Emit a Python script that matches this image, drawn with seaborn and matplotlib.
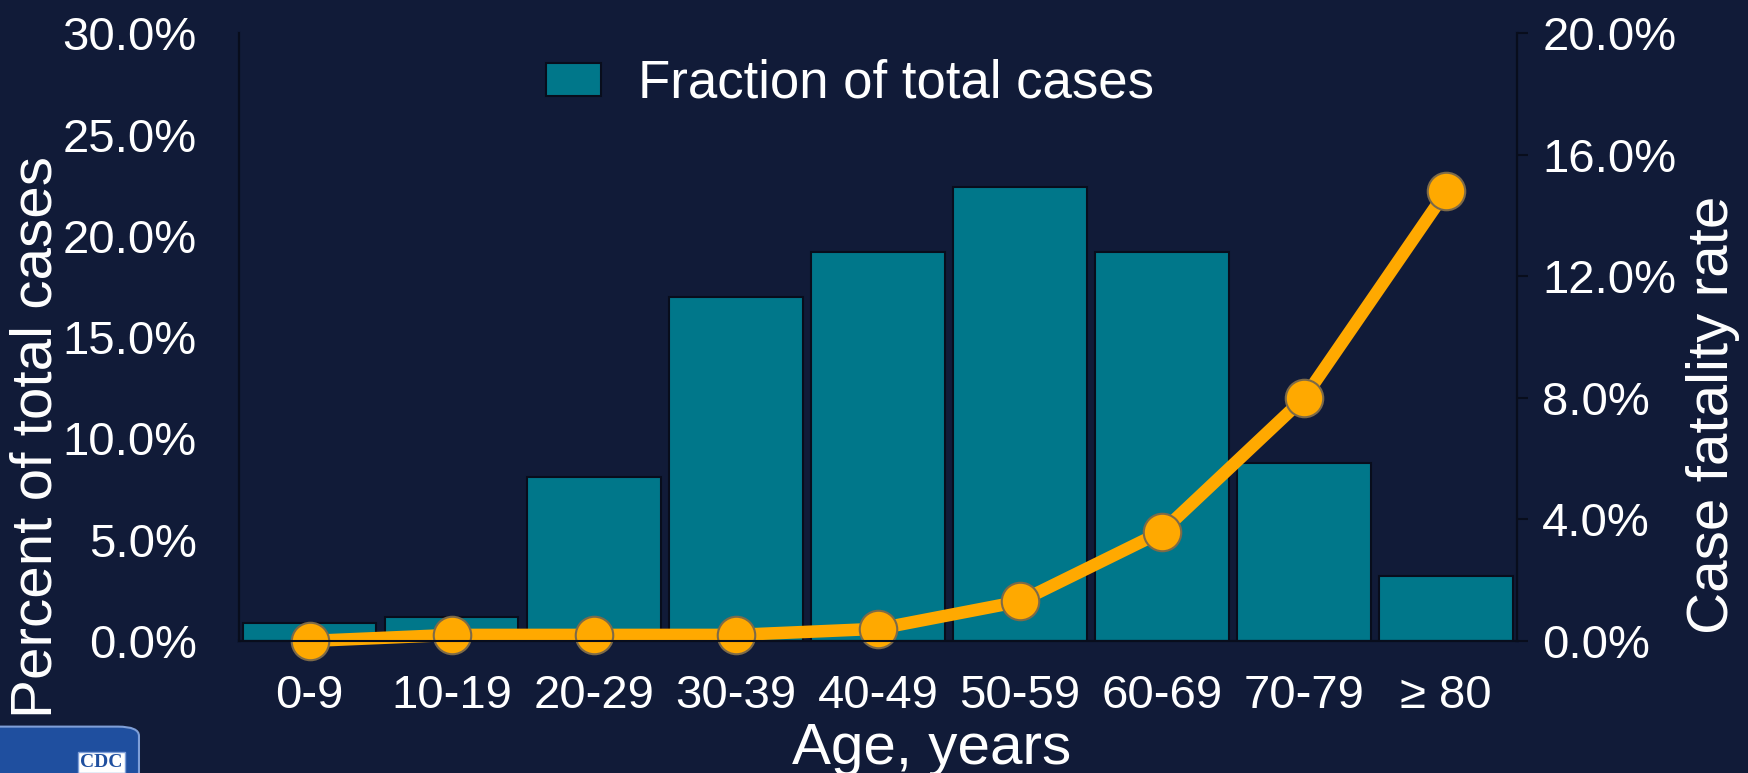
import matplotlib
matplotlib.use("Agg")
import matplotlib.pyplot as plt
import numpy as np
import pandas as pd
import seaborn as sns
from matplotlib.patches import FancyBboxPatch
from matplotlib.ticker import FuncFormatter

# data
age_groups = ["0-9", "10-19", "20-29", "30-39", "40-49", "50-59", "60-69", "70-79", "≥ 80"]
pct_cases = [0.9, 1.2, 8.1, 17.0, 19.2, 22.4, 19.2, 8.8, 3.2]
cfr = [0.0, 0.2, 0.2, 0.2, 0.4, 1.3, 3.6, 8.0, 14.8]
left_ticks = [0, 5, 10, 15, 20, 25, 30]
right_ticks = [0, 4, 8, 12, 16, 20]

BG = "#111b38"
TEAL = "#00778a"
ORANGE = "#ffa900"
DARK = "#080d1c"

sns.set_theme(style="white")
plt.rcParams["font.family"] = ["Liberation Sans", "DejaVu Sans"]

df = pd.DataFrame({"age": age_groups, "pct": pct_cases, "cfr": cfr})

fig = plt.figure(figsize=(17.48, 7.73), dpi=100, facecolor=BG)
ax = fig.add_axes([0.1365, 0.1708, 0.7315, 0.7862])
ax.set_facecolor(BG)

sns.barplot(data=df, x="age", y="pct", color=TEAL, saturation=1, width=0.94,
            edgecolor=DARK, linewidth=1.5, ax=ax, label="Fraction of total cases")
ax.set_ylim(0, 30)
ax.set_yticks(left_ticks)
ax.yaxis.set_major_formatter(FuncFormatter(lambda v, p: f"{v:.1f}%"))

ax2 = ax.twinx()
sns.lineplot(x=np.arange(len(age_groups)), y=df["cfr"], ax=ax2, color=ORANGE,
             linewidth=9, marker="o", markersize=27, markerfacecolor=ORANGE,
             markeredgecolor="#7d6a48", markeredgewidth=1.5)
for ln in ax2.lines:
    ln.set_clip_on(False)
ax2.set_ylim(0, 20)
ax2.set_yticks(right_ticks)
ax2.yaxis.set_major_formatter(FuncFormatter(lambda v, p: f"{v:.1f}%"))
ax.set_xlim(-0.5, 8.5)

# ticks and spines
ax.tick_params(axis="y", length=0, pad=30, labelsize=34, labelcolor="white")
ax.tick_params(axis="x", length=0, pad=24, labelsize=34, labelcolor="white")
ax2.tick_params(axis="y", length=8, width=1.5, color=DARK, pad=10, labelsize=34, labelcolor="white")
for a in (ax, ax2):
    for s in a.spines.values():
        s.set_color(DARK)
        s.set_linewidth(1.5)
    a.spines["top"].set_visible(False)
    a.grid(False)

# axis labels
ax.set_xlabel("Age, years", fontsize=42, color="white")
ax.xaxis.set_label_coords(0.542, -0.178)
ax.xaxis.label.set_va("center")
ax.set_ylabel("Percent of total cases", fontsize=42, color="white")
ax.yaxis.set_label_coords(-0.158, 0.335)
ax.yaxis.label.set_va("center")
ax2.set_ylabel("Case fatality rate", fontsize=42, color="white", rotation=90)
ax2.yaxis.set_label_coords(1.153, 0.372)
ax2.yaxis.label.set_va("center")

# legend
handles, labels = ax.get_legend_handles_labels()
if ax.get_legend() is not None:
    ax.get_legend().remove()
fig.legend(handles, labels, loc="center", bbox_to_anchor=(850 / 1748, 1 - 84 / 773),
           bbox_transform=fig.transFigure, frameon=False, fontsize=38, labelcolor="white",
           handlelength=1.05, handleheight=0.6, handletextpad=0.7)

# logo box, bottom left
fig.patches.append(FancyBboxPatch((-0.02, -0.03), 0.0995, 0.09,
                                  boxstyle="round,pad=0,rounding_size=0.012",
                                  transform=fig.transFigure, facecolor="#1f4f9f",
                                  edgecolor="#7f9fd8", linewidth=1.5))
fig.text(0.058, 0.003, "CDC", fontsize=14, color="#1f4f9f", fontweight="bold",
         family="Liberation Serif", ha="center", va="bottom",
         bbox=dict(facecolor="white", edgecolor="#7f9fd8", pad=1.5))

fig.savefig("out.png", dpi=100, facecolor=BG)
